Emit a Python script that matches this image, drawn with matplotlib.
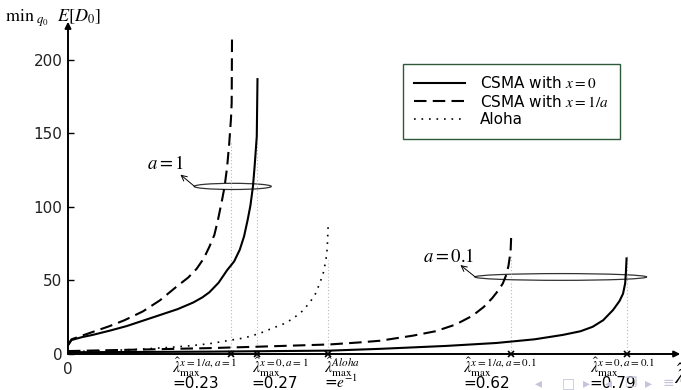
import matplotlib
matplotlib.use("Agg")
import matplotlib.pyplot as plt
from matplotlib.patches import Ellipse

plt.rcParams['font.family'] = ['DejaVu Sans']
plt.rcParams['mathtext.fontset'] = 'stix'

# curves: a=1
csma0_a1_x = [0, 0.005, 0.02, 0.035, 0.06, 0.083, 0.105, 0.13, 0.155, 0.177, 0.19, 0.2, 0.213, 0.225,
              0.235, 0.243, 0.249, 0.254, 0.258, 0.2616, 0.264, 0.267, 0.268]
csma0_a1_y = [6, 9.5, 11.5, 13, 16, 19, 22.5, 26.5, 30.5, 35, 38.5, 42, 48.5, 57,
              63, 71, 80, 91, 101, 114, 128, 148, 187]
csma1_a1_x = [0, 0.005, 0.02, 0.035, 0.059, 0.08, 0.106, 0.13, 0.154, 0.17, 0.182, 0.192, 0.2, 0.207,
              0.212, 0.218, 0.2215, 0.225, 0.228, 0.2305, 0.2315, 0.232]
csma1_a1_y = [6, 10, 12.5, 15, 19, 23, 29, 36.5, 46, 52, 58, 65, 73, 81,
              91, 105, 114, 127, 143, 160, 171, 218]

# aloha
aloha_x = [0, 0.05, 0.1, 0.144, 0.175, 0.2, 0.225, 0.25, 0.271, 0.29, 0.305, 0.318, 0.331, 0.342,
           0.35, 0.356, 0.361, 0.364, 0.366, 0.367, 0.368]
aloha_y = [1.5, 2.2, 3.2, 4.5, 5.7, 7, 9, 11, 14, 17.7, 20.5, 24, 29, 35,
           41, 48, 55, 62, 68, 76, 88]

# a=0.1
csma1_a01_x = [0, 0.1, 0.2, 0.271, 0.37, 0.41, 0.441, 0.488, 0.52, 0.548, 0.572, 0.588, 0.6, 0.609,
               0.615, 0.62, 0.623, 0.626, 0.627]
csma1_a01_y = [2, 3, 4, 5, 6.5, 7.8, 9, 12.5, 15.5, 20, 26, 32, 38, 43.5,
               48, 54, 60, 70, 82]
csma0_a01_x = [0, 0.2, 0.37, 0.441, 0.535, 0.606, 0.66, 0.7, 0.725, 0.742, 0.757, 0.771, 0.78, 0.785,
               0.788, 0.789, 0.79]
csma0_a01_y = [1.2, 1.6, 2.3, 3.5, 5.5, 7.5, 10, 13, 15.5, 18.5, 23, 30, 36, 41,
               48, 55, 65]

# capacity limits on the x axis
lam_max = [0.23, 0.268, 0.368, 0.627, 0.79]
lam_guide_top = [145, 145, 64, 68, 68]
lam_sup = [r"x{=}1/a,a{=}1", r"x{=}0,a{=}1", r"Aloha", r"x{=}1/a,a{=}0.1", r"x{=}0,a{=}0.1"]
lam_val = ["=0.23", "=0.27", "=$e^{-1}$", "=0.62", "=0.79"]
lam_label_x = [0.147, 0.260, 0.362, 0.559, 0.738]

yticks = [0, 50, 100, 150, 200]

fig = plt.figure(figsize=(6.81, 3.90), dpi=100)
ax = fig.add_axes([68 / 681, 36 / 390, 613 / 681, 334 / 390])
ax.set_xlim(0, 0.867)
ax.set_ylim(0, 227.2)
for s in ax.spines.values():
    s.set_visible(False)

ax.set_yticks(yticks)
ax.set_yticklabels([str(v) for v in yticks], fontsize=11, color='#222222')
ax.tick_params(axis='y', direction='in', length=4, width=1, pad=4)
ax.set_xticks([0])
ax.set_xticklabels(['0'], fontsize=11, color='#222222')
ax.tick_params(axis='x', length=0, pad=6)

# guides and markers
for lx, top in zip(lam_max, lam_guide_top):
    ax.plot([lx, lx], [0, top], color='#b8b8b8', ls=(0, (1, 2)), lw=0.8)
ax.plot(lam_max, [0] * len(lam_max), 'x', color='black', ms=5, mew=1.2, clip_on=False, zorder=5)

ax.plot(csma0_a1_x, csma0_a1_y, color='black', lw=1.5, label=r"CSMA with $x=0$")
ax.plot(csma1_a1_x, csma1_a1_y, color='black', lw=1.5, ls=(0, (6, 3)), label=r"CSMA with $x=1/a$")
ax.plot(aloha_x, aloha_y, color='black', lw=1.2, ls=(0, (1, 3.5)), label="Aloha")
ax.plot(csma1_a01_x, csma1_a01_y, color='black', lw=1.5, ls=(0, (6, 3)))
ax.plot(csma0_a01_x, csma0_a01_y, color='black', lw=1.5)

# axes with arrows
ax.annotate('', xy=(0, 226), xytext=(0, 0), annotation_clip=False,
            arrowprops=dict(arrowstyle='-|>', color='black', lw=1.4, mutation_scale=9, shrinkA=0, shrinkB=0))
ax.annotate('', xy=(0.866, 0), xytext=(0, 0), annotation_clip=False,
            arrowprops=dict(arrowstyle='-|>', color='black', lw=1.4, mutation_scale=9, shrinkA=0, shrinkB=0))

# ellipses grouping the curves
ax.add_patch(Ellipse((0.233, 114), 0.109, 4.2, fill=False, ec='#333333', lw=0.9))
ax.add_patch(Ellipse((0.697, 52.4), 0.243, 4.6, fill=False, ec='#333333', lw=0.9))
ax.annotate('', xy=(0.159, 122), xytext=(0.179, 114),
            arrowprops=dict(arrowstyle='->', color='black', lw=0.7, shrinkA=0, shrinkB=0))
ax.annotate('', xy=(0.555, 60.5), xytext=(0.576, 52.4),
            arrowprops=dict(arrowstyle='->', color='black', lw=0.7, shrinkA=0, shrinkB=0))
ax.text(0.112, 126, r"$a{=}1$", fontsize=13.5)
ax.text(0.502, 62.5, r"$a{=}0.1$", fontsize=13.5)

# labels below the axis
for lx, sup, val in zip(lam_label_x, lam_sup, lam_val):
    ax.text(lx, -1.2, r"$\hat{\lambda}_{\max}^{" + sup + "}$", fontsize=11.5, va='top', ha='left', clip_on=False)
    ax.text(lx, -23.2, val, fontsize=11, va='baseline', ha='left', clip_on=False)

fig.text(5 / 681, 1 - 22 / 390, r"$\mathrm{min}_{\ q_0}\ \ E[D_0]$", fontsize=13)
fig.text(674 / 681, 1 - 384 / 390, r"$\hat{\lambda}$", fontsize=15)

# beamer navigation symbols
nav_x = [535, 562, 583, 605, 624, 645, 663, 687]
nav_s = ['◂', '□', '▸', '◂', '❐', '▸', '≡', '▸']
for nx, ns in zip(nav_x, nav_s):
    fig.text(nx / 681, 1 - 387 / 390, ns, fontsize=10, color='#c4c4dc', family='DejaVu Sans')

leg = ax.legend(loc='upper left', bbox_to_anchor=(403 / 681, 1 - 64 / 390), bbox_transform=fig.transFigure,
                fontsize=11, handlelength=3.3, labelspacing=0.15, borderpad=0.75, handletextpad=1.0,
                fancybox=False, framealpha=1, borderaxespad=0)
leg.get_frame().set_edgecolor('#2e5a3a')
leg.get_frame().set_linewidth(1.0)

fig.savefig('out.png', dpi=100)
